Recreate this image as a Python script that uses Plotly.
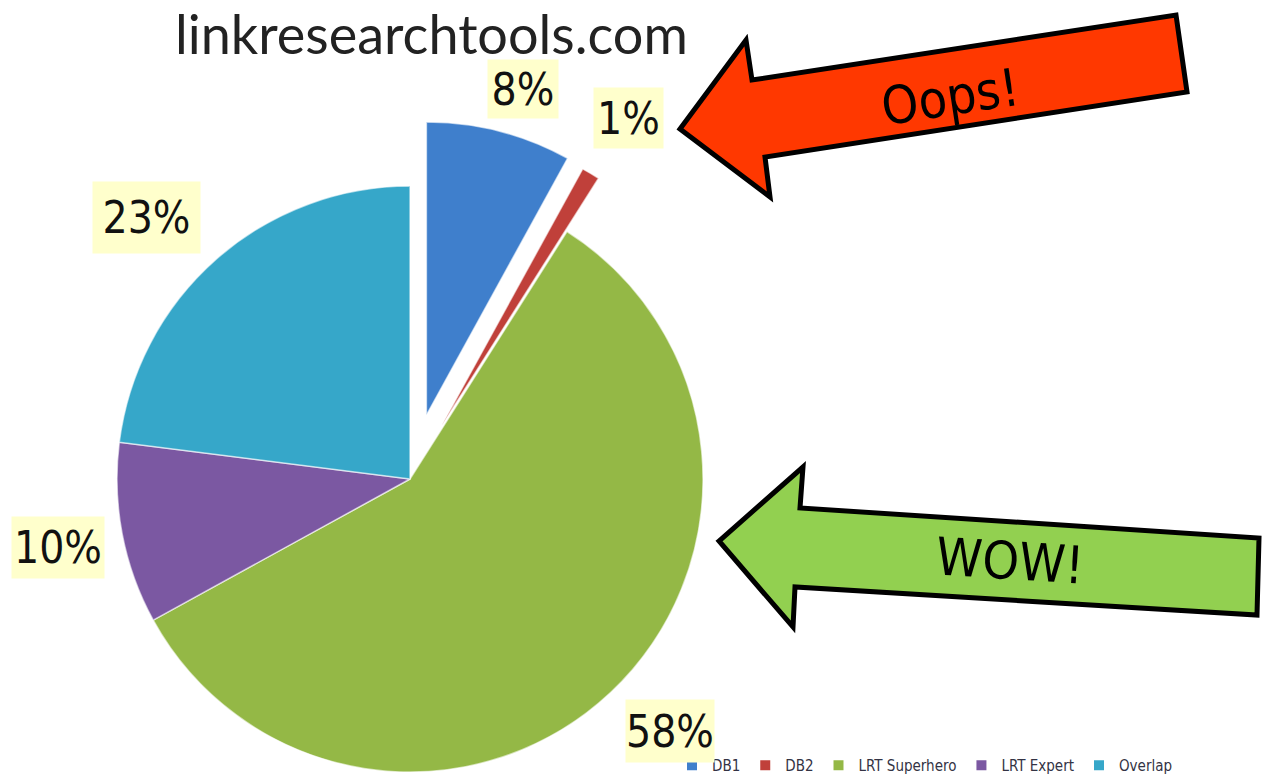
import plotly.graph_objects as go
import math

# ---- data ----
labels = ["DB1", "DB2", "LRT Superhero", "LRT Expert", "Overlap"]
values = [8, 1, 58, 10, 23]
colors = ["#3f7fcc", "#c0403a", "#94b846", "#7b58a2", "#36a7c9"]
pulls_px = [66, 62, 0, 0, 0]          # explosion distance (pixels)
title_text = "linkresearchtools.com"
callout_texts = ["Oops!", "WOW!"]

# ---- geometry (layout only) ----
W, H = 1266, 782
CX, CY, R = 410, 479, 293

def domain_for(cx, cy, r):
    return dict(x=[(cx - r) / W, (cx + r) / W],
                y=[1 - (cy + r) / H, 1 - (cy - r) / H])

def P(x, y):
    return x / W, 1 - y / H

fig = go.Figure()

total = sum(values)
cum = 0
mids = []
for v in values:
    mids.append((cum + v / 2) / total * 2 * math.pi)
    cum += v

# main pie: non-exploded slices
main_colors = [c if p == 0 else "rgba(0,0,0,0)" for c, p in zip(colors, pulls_px)]
main_lw = [1.5 if p == 0 else 0 for p in pulls_px]
fig.add_trace(go.Pie(
    labels=labels, values=values, sort=False, direction="clockwise", rotation=0,
    marker=dict(colors=main_colors, line=dict(color="rgba(255,255,255,0.6)", width=main_lw)),
    textinfo="none", hoverinfo="label+percent", showlegend=False,
    domain=domain_for(CX, CY, R)))

# exploded slices, each as its own pie shifted along its mid-angle
for i, p in enumerate(pulls_px):
    if p == 0:
        continue
    cx = CX + p * math.sin(mids[i])
    cy = CY - p * math.cos(mids[i])
    cols = ["rgba(0,0,0,0)"] * len(values)
    cols[i] = colors[i]
    lw = [0] * len(values)
    lw[i] = 1.5
    fig.add_trace(go.Pie(
        labels=labels, values=values, sort=False, direction="clockwise", rotation=0,
        marker=dict(colors=cols, line=dict(color="rgba(255,255,255,0.6)", width=lw)),
        textinfo="none", hoverinfo="label+percent", showlegend=False,
        domain=domain_for(cx, cy, R)))

# legend entries
for lab, col in zip(labels, colors):
    fig.add_trace(go.Scatter(x=[None], y=[None], mode="markers", name=lab,
                             marker=dict(symbol="square", size=10, color=col)))

# percentage labels (boxes: center x, center y, width, height)
boxes = [(523, 89, 70, 58), (628, 118, 69, 60), (670, 731, 88, 62),
         (58, 547, 92, 61), (146, 217, 107, 71)]
LBL_FONT = "DejaVu Sans Condensed, DejaVu Sans, sans-serif"
for v, (bx, by, bw, bh) in zip(values, boxes):
    x, y = P(bx, by)
    fig.add_annotation(x=x, y=y, xref="paper", yref="paper", xanchor="center", yanchor="middle",
                       text=f"{round(v / total * 100)}%", showarrow=False,
                       font=dict(family=LBL_FONT, size=44, color="#111111"),
                       bgcolor="#ffffcc", borderpad=0, width=bw, height=bh)

# title
tx, ty = P(431, 34)
fig.add_annotation(x=tx, y=ty, xref="paper", yref="paper", xanchor="center", yanchor="middle",
                   text=title_text, showarrow=False,
                   font=dict(family="Lato, Open Sans, sans-serif", size=54, color="#222222"))

# arrows
def path(pts):
    s = ""
    for k, (x, y) in enumerate(pts):
        px, py = P(x, y)
        s += ("M" if k == 0 else "L") + f"{px:.5f},{py:.5f} "
    return s + "Z"

red_pts = [(680, 129), (746, 40), (752, 80), (1176, 15), (1187, 92), (765, 157), (770, 197)]
green_pts = [(719, 541), (803, 467), (800, 508), (1259, 538), (1257, 615), (795, 587), (793, 627)]
fig.add_shape(type="path", path=path(red_pts), xref="paper", yref="paper",
              fillcolor="#ff3800", line=dict(color="black", width=5))
fig.add_shape(type="path", path=path(green_pts), xref="paper", yref="paper",
              fillcolor="#92d050", line=dict(color="black", width=5))

ox, oy = P(950, 97)
fig.add_annotation(x=ox, y=oy, xref="paper", yref="paper", xanchor="center", yanchor="middle",
                   text=callout_texts[0], showarrow=False,
                   textangle=-8.7, font=dict(family=LBL_FONT, size=52, color="black"))
wx, wy = P(1010, 561)
fig.add_annotation(x=wx, y=wy, xref="paper", yref="paper", xanchor="center", yanchor="middle",
                   text=callout_texts[1], showarrow=False,
                   textangle=3.7, font=dict(family=LBL_FONT, size=52, color="black"))

lx, ly = P(672, 782)
fig.update_layout(
    width=W, height=H, autosize=False,
    margin=dict(l=0, r=0, t=0, b=0),
    paper_bgcolor="white", plot_bgcolor="white",
    xaxis=dict(visible=False, range=[0, 1]), yaxis=dict(visible=False, range=[0, 1]),
    legend=dict(orientation="h", x=lx, y=ly, xanchor="left", yanchor="bottom",
                font=dict(family=LBL_FONT, size=15, color="#333344"),
                itemwidth=30, tracegroupgap=0, bgcolor="rgba(0,0,0,0)"),
)

fig.write_html("out.html", config={"displayModeBar": False},
               post_script="document.body.style.margin='0';document.body.style.overflow='hidden';")
